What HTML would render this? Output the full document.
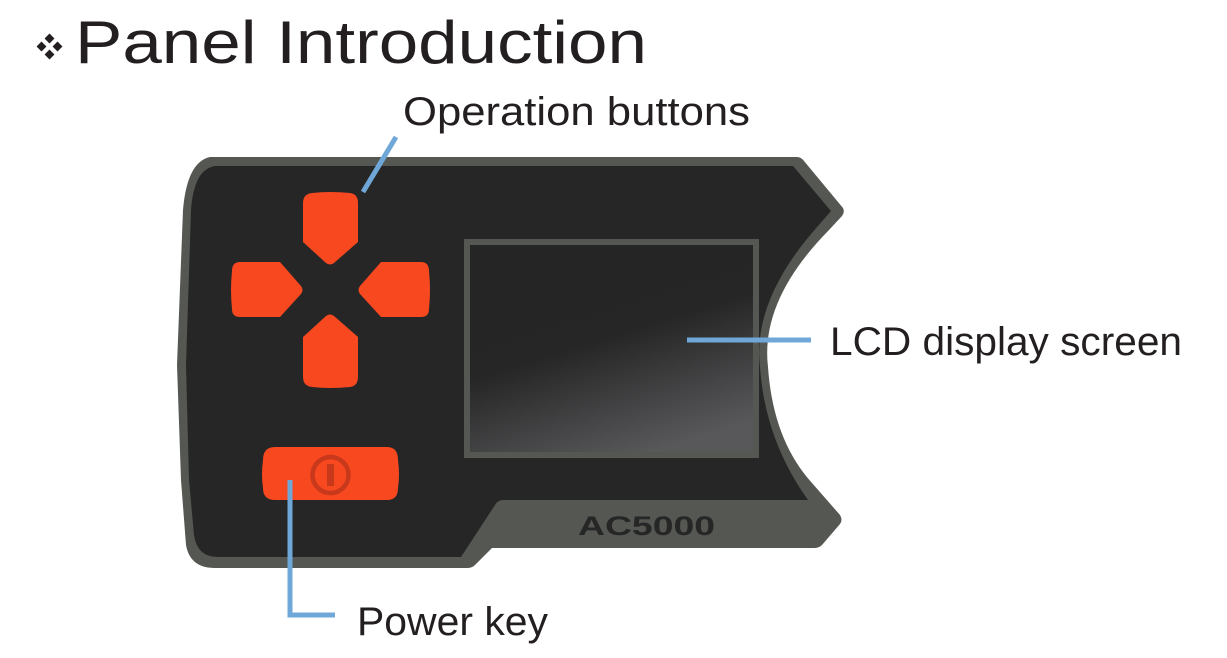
<!DOCTYPE html>
<html><head><meta charset="utf-8"><style>
html,body{margin:0;padding:0;background:#fff;width:1227px;height:658px;overflow:hidden}
svg{display:block}
text{font-family:"Liberation Sans","DejaVu Sans",sans-serif;fill:#231f20}
</style></head><body>
<svg width="1227" height="658" viewBox="0 0 1227 658" xmlns="http://www.w3.org/2000/svg">
<defs>
<linearGradient id="lcd" x1="0.35" y1="0.3" x2="0.65" y2="1">
<stop offset="0" stop-color="#262526"/>
<stop offset="0.25" stop-color="#272627"/>
<stop offset="1" stop-color="#58585a"/>
</linearGradient>
</defs>
<!-- title -->
<g fill="#231f20">
<rect x="46" y="35" width="7" height="7" transform="rotate(45 49.5 38.5)"/>
<rect x="38" y="43" width="7" height="7" transform="rotate(45 41.5 46.5)"/>
<rect x="54" y="43" width="7" height="7" transform="rotate(45 57.5 46.5)"/>
<rect x="46" y="51" width="7" height="7" transform="rotate(45 49.5 54.5)"/>
</g>
<text x="75" y="63" font-size="60" textLength="572" lengthAdjust="spacingAndGlyphs" style="font-weight:300">Panel Introduction</text>
<text x="403" y="125" font-size="40" textLength="347" lengthAdjust="spacingAndGlyphs">Operation buttons</text>
<text x="830" y="355" font-size="40" textLength="352" lengthAdjust="spacingAndGlyphs">LCD display screen</text>
<text x="357" y="635" font-size="40" textLength="191" lengthAdjust="spacingAndGlyphs">Power key</text>

<!-- body outline -->
<path d="M210 157 L797 157 Q801 157 804 161 L843 208 Q845 212 842 216 L829 230 Q760 300 768 367 Q773 440 812 483 L840 515 Q843 520 840 524 L822 545 Q819 548 814 548 L492 548 L475 565 Q472 568 467 568 L215 568 Q190 568 186 545 L181 480 L177 365 L183 210 Q187 162 210 157 Z" fill="#555753"/>
<!-- inner dark -->
<path d="M216 166 L793 166 L831 211 L818 226 Q752 300 760 367 Q765 440 808 500 L503 500 Q498 500 495 505 L461 557 L218 557 Q197 557 194 535 L189 480 L186 365 L191 210 Q194 168 216 166 Z" fill="#272627"/>
<!-- LCD -->
<rect x="464" y="239" width="295" height="219" fill="#555753"/>
<rect x="470" y="245" width="283" height="207" fill="url(#lcd)"/>
<text x="578" y="535" font-size="27" style="font-weight:bold;fill:#272627" textLength="137" lengthAdjust="spacingAndGlyphs">AC5000</text>

<!-- dpad -->
<g fill="#f74820">
<path d="M312 193 Q330 191 350 193 Q358 194 358 203 L358 242 L334 263 Q330 266 326 263 L303 242 L303 203 Q303 194 312 193 Z"/>
<path d="M312 387 Q330 389 350 387 Q358 386 358 377 L358 337 L334 316 Q330 313 326 316 L303 337 L303 377 Q303 386 312 387 Z"/>
<path d="M240 262 L280 262 L301 286 Q304 290 301 294 L280 317 L240 317 Q232 317 232 309 Q230 290 232 271 Q232 262 240 262 Z"/>
<path d="M421 262 L381 262 L360 286 Q357 290 360 294 L381 317 L421 317 Q429 317 429 309 Q431 290 429 271 Q429 262 421 262 Z"/>
<path d="M275 447 L387 447 Q398 447 398 460 Q400 475 398 488 Q398 500 387 500 L275 500 Q263 500 263 488 Q261 475 263 460 Q263 447 275 447 Z"/>
</g>
<circle cx="330.5" cy="475" r="18" fill="none" stroke="#c8381a" stroke-width="4.5"/>
<rect x="327" y="464" width="7" height="22" fill="#c8381a"/>

<!-- connectors -->
<g stroke="#6fa8d8" stroke-width="5" fill="none">
<line x1="396" y1="137" x2="363" y2="192"/>
<line x1="687" y1="340" x2="811" y2="340"/>
<polyline points="290,480 290,615 335,615"/>
</g>
</svg>
</body></html>
